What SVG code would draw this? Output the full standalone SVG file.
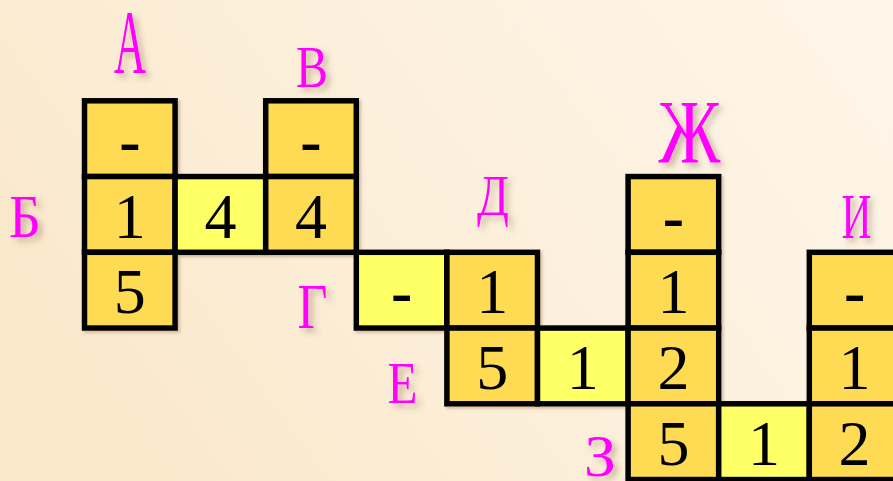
<svg xmlns="http://www.w3.org/2000/svg" width="893" height="481" viewBox="0 0 893 481">
<defs>
<linearGradient id="bg" x1="0" y1="0.6" x2="1" y2="0.2">
<stop offset="0" stop-color="#FAE8CB"/>
<stop offset="0.45" stop-color="#FCEFDA"/>
<stop offset="1" stop-color="#FEF5E8"/>
</linearGradient>
<filter id="sh" x="-50%" y="-50%" width="200%" height="200%">
<feDropShadow dx="4" dy="4" stdDeviation="3" flood-color="#806040" flood-opacity="0.45"/>
</filter>
<filter id="csh" x="-10%" y="-10%" width="130%" height="130%">
<feDropShadow dx="2" dy="2" stdDeviation="1.5" flood-color="#806040" flood-opacity="0.35"/>
</filter>
</defs>
<style>
.g{fill:#FFDA52;stroke:#000;stroke-width:5.5}
.y{fill:#FFFF66;stroke:#000;stroke-width:5.5}
.n{font-family:"Liberation Serif","Times New Roman",serif;font-size:64px;fill:#000;text-anchor:middle}
.d{font-weight:bold}
.l{font-family:"Liberation Serif","Times New Roman",serif;fill:#FF00FF;text-anchor:middle;filter:url(#sh)}
</style>
<rect width="893" height="481" fill="url(#bg)"/>
<g id="cells" filter="url(#csh)">
<g id="a1"><rect class="g" x="84.5" y="100.8" width="90.6" height="75.75"/><text class="n d" x="129.8" y="161.8">-</text></g>
<g id="a2"><rect class="g" x="84.5" y="176.55" width="90.6" height="75.75"/><text class="n" x="129.8" y="237.5">1</text></g>
<g id="a3"><rect class="g" x="84.5" y="252.3" width="90.6" height="75.75"/><text class="n" x="129.8" y="313.3">5</text></g>
<g id="b2"><rect class="y" x="175.1" y="176.55" width="90.6" height="75.75"/><text class="n" x="220.4" y="237.5">4</text></g>
<g id="v1"><rect class="g" x="265.7" y="100.8" width="90.6" height="75.75"/><text class="n d" x="311" y="161.8">-</text></g>
<g id="v2"><rect class="g" x="265.7" y="176.55" width="90.6" height="75.75"/><text class="n" x="311" y="237.5">4</text></g>
<g id="g1"><rect class="y" x="356.3" y="252.3" width="90.6" height="75.75"/><text class="n d" x="401.6" y="313.3">-</text></g>
<g id="g2"><rect class="g" x="446.9" y="252.3" width="90.6" height="75.75"/><text class="n" x="492.2" y="313.3">1</text></g>
<g id="e1"><rect class="g" x="446.9" y="328.05" width="90.6" height="75.75"/><text class="n" x="492.2" y="389">5</text></g>
<g id="e2"><rect class="y" x="537.5" y="328.05" width="90.6" height="75.75"/><text class="n" x="582.8" y="389">1</text></g>
<g id="zh1"><rect class="g" x="628.1" y="176.55" width="90.6" height="75.75"/><text class="n d" x="673.4" y="237.5">-</text></g>
<g id="zh2"><rect class="g" x="628.1" y="252.3" width="90.6" height="75.75"/><text class="n" x="673.4" y="313.3">1</text></g>
<g id="zh3"><rect class="g" x="628.1" y="328.05" width="90.6" height="75.75"/><text class="n" x="673.4" y="389">2</text></g>
<g id="zh4"><rect class="g" x="628.1" y="403.8" width="90.6" height="75.75"/><text class="n" x="673.4" y="464.8">5</text></g>
<g id="z2"><rect class="y" x="718.7" y="403.8" width="90.6" height="75.75"/><text class="n" x="764" y="464.8">1</text></g>
<g id="i1"><rect class="g" x="809.3" y="252.3" width="90.6" height="75.75"/><text class="n d" x="854.6" y="313.3">-</text></g>
<g id="i2"><rect class="g" x="809.3" y="328.05" width="90.6" height="75.75"/><text class="n" x="854.6" y="389">1</text></g>
<g id="i3"><rect class="g" x="809.3" y="403.8" width="90.6" height="75.75"/><text class="n" x="854.6" y="464.8">2</text></g>
</g>
<g id="labels">
<g id="lA"><text class="l" x="130" y="73" font-size="90" textLength="32" lengthAdjust="spacingAndGlyphs">А</text></g>
<g id="lB"><text class="l" x="312" y="87" font-size="60" textLength="32" lengthAdjust="spacingAndGlyphs">В</text></g>
<g id="lBe"><text class="l" x="25" y="237" font-size="62" textLength="32" lengthAdjust="spacingAndGlyphs">Б</text></g>
<g id="lG"><text class="l" x="312.5" y="328" font-size="63" textLength="30" lengthAdjust="spacingAndGlyphs">Г</text></g>
<g id="lD"><text class="l" x="493" y="215" font-size="58" textLength="32" lengthAdjust="spacingAndGlyphs">Д</text></g>
<g id="lE"><text class="l" x="402.5" y="403" font-size="60" textLength="30" lengthAdjust="spacingAndGlyphs">Е</text></g>
<g id="lZh"><text class="l" x="689.5" y="163" font-size="90" textLength="62" lengthAdjust="spacingAndGlyphs">Ж</text></g>
<g id="lI"><text class="l" x="856.5" y="238" font-size="64" textLength="30" lengthAdjust="spacingAndGlyphs">И</text></g>
<g id="lZ"><text class="l" x="600" y="476" font-size="60" textLength="32" lengthAdjust="spacingAndGlyphs">З</text></g>
</g>
</svg>
